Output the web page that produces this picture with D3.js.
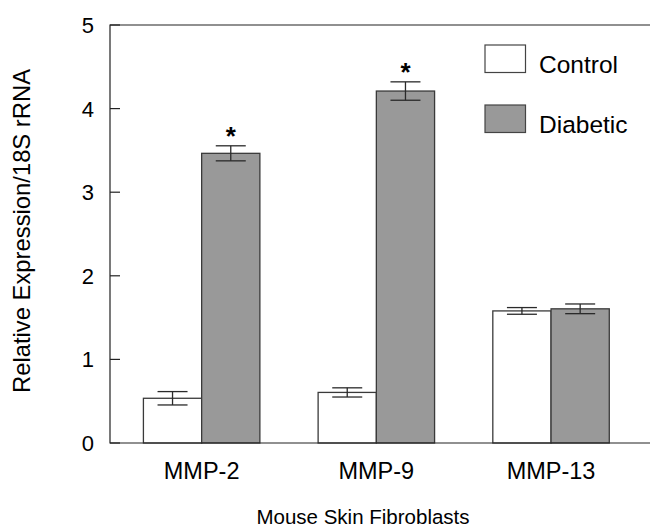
<!DOCTYPE html>
<html>
<head>
<meta charset="utf-8">
<script src="https://cdn.jsdelivr.net/npm/d3@7"></script>
<style>
  body { margin: 0; background: #fff; }
  svg { display: block; font-family: Arial, "Liberation Sans", Helvetica, sans-serif; }
</style>
</head>
<body>
<svg id="chart" width="650" height="527"></svg>
<script>
// Data
const groups = ["MMP-2", "MMP-9", "MMP-13"];
const seriesNames = ["Control", "Diabetic"];
const controlValues = [0.535, 0.605, 1.58];
const controlErrors = [0.08, 0.055, 0.04];
const diabeticValues = [3.465, 4.21, 1.605];
const diabeticErrors = [0.09, 0.11, 0.058];
const significant = [true, true, false];
const yTicks = [0, 1, 2, 3, 4, 5];

const colors = { Control: "#ffffff", Diabetic: "#999999" };

const svg = d3.select("#chart");
const frame = { left: 110, top: 25, bottom: 443, right: 650 };

const y = d3.scaleLinear().domain([0, 5]).range([frame.bottom, frame.top]);
const x = d3.scaleBand().domain(groups).range([114.3, 638.4])
    .paddingInner(1 / 3).paddingOuter(1 / 6);
const xs = d3.scaleBand().domain(seriesNames).range([0, x.bandwidth()]);

// build rows
const rows = [];
groups.forEach((g, i) => {
    rows.push({ group: g, series: "Control", value: controlValues[i], err: controlErrors[i], sig: false });
    rows.push({ group: g, series: "Diabetic", value: diabeticValues[i], err: diabeticErrors[i], sig: significant[i] });
});

// Bars
svg.append("g").selectAll("rect")
    .data(rows).enter().append("rect")
    .attr("x", d => x(d.group) + xs(d.series))
    .attr("y", d => y(d.value))
    .attr("width", xs.bandwidth())
    .attr("height", d => y(0) - y(d.value))
    .attr("fill", d => colors[d.series])
    .attr("stroke", "#3a3a3a")
    .attr("stroke-width", 1.3);

// Error bars
const eb = svg.append("g").attr("stroke", "#2a2a2a").attr("stroke-width", 1.3);
rows.forEach(d => {
    const cx = x(d.group) + xs(d.series) + xs.bandwidth() / 2;
    const hi = y(d.value + d.err), lo = y(d.value - d.err);
    eb.append("line").attr("x1", cx).attr("x2", cx).attr("y1", hi).attr("y2", lo);
    eb.append("line").attr("x1", cx - 15).attr("x2", cx + 15).attr("y1", hi).attr("y2", hi);
    eb.append("line").attr("x1", cx - 15).attr("x2", cx + 15).attr("y1", lo).attr("y2", lo);
});

// Significance asterisks
svg.append("g").selectAll("text")
    .data(rows.filter(d => d.sig)).enter().append("text")
    .attr("x", d => x(d.group) + xs(d.series) + xs.bandwidth() / 2)
    .attr("y", d => y(d.value + d.err) - 1)
    .attr("text-anchor", "middle")
    .attr("font-size", 26).attr("font-weight", "bold")
    .text("*");

// Frame: left, top, bottom
const axisG = svg.append("g").attr("stroke", "#222").attr("stroke-width", 1.2).attr("fill", "none");
axisG.append("path").attr("d",
    `M${frame.right},${frame.top}H${frame.left}V${frame.bottom}H${frame.right}`);

// Y ticks (inward) and labels
axisG.selectAll(".tick").data(yTicks).enter().append("line")
    .attr("x1", frame.left).attr("x2", frame.left + 10)
    .attr("y1", d => y(d)).attr("y2", d => y(d));

svg.append("g").selectAll("text").data(yTicks).enter().append("text")
    .attr("x", 94).attr("y", d => y(d))
    .attr("dy", "0.36em")
    .attr("text-anchor", "end")
    .attr("font-size", 22)
    .text(d => d);

// Group labels
svg.append("g").selectAll("text").data(groups).enter().append("text")
    .attr("x", d => x(d) + x.bandwidth() / 2)
    .attr("y", 479)
    .attr("text-anchor", "middle")
    .attr("font-size", 23.5)
    .text(d => d);

// Axis titles
svg.append("text")
    .attr("x", 363).attr("y", 524)
    .attr("text-anchor", "middle")
    .attr("font-size", 20.5)
    .text("Mouse Skin Fibroblasts");

svg.append("text")
    .attr("transform", "translate(30,231) rotate(-90)")
    .attr("text-anchor", "middle")
    .attr("font-size", 23.8)
    .text("Relative Expression/18S rRNA");

// Legend
const legend = svg.append("g").selectAll("g")
    .data(seriesNames).enter().append("g")
    .attr("transform", (d, i) => `translate(485,${45 + i * 60})`);
legend.append("rect")
    .attr("width", 40.5).attr("height", 27.5)
    .attr("fill", d => colors[d])
    .attr("stroke", "#444").attr("stroke-width", 1.2);
legend.append("text")
    .attr("x", 54).attr("y", 27.5)
    .attr("font-size", 24.5)
    .text(d => d);
</script>
</body>
</html>
